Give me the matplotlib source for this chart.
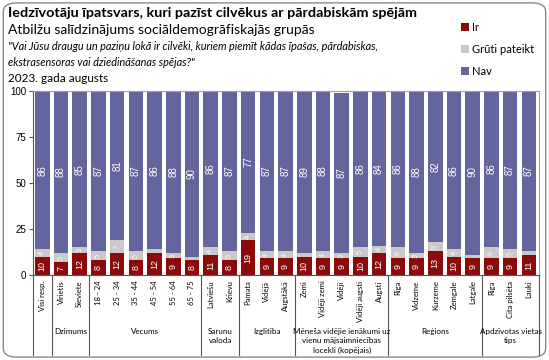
import numpy as np
import matplotlib.pyplot as plt
from matplotlib.patches import FancyBboxPatch
from matplotlib.lines import Line2D

kategorijas = ['Visi resp.', 'Vīrietis', 'Sieviete', '18 - 24', '25 - 34', '35 - 44', '45 - 54',
               '55 - 64', '65 - 75', 'Latviešu', 'Krievu', 'Pamata', 'Vidējā', 'Augstākā',
               'Zemi', 'Vidēji zemi', 'Vidēji', 'Vidēji augsti', 'Augsti', 'Rīga', 'Vidzeme',
               'Kurzeme', 'Zemgale', 'Latgale', 'Rīga', 'Cita pilsēta', 'Lauki']
ir = [10, 7, 12, 8, 12, 8, 12, 9, 8, 11, 8, 19, 9, 9, 10, 9, 9, 10, 12, 9, 9, 13, 10, 9, 9, 9, 11]
gruti = [4, 5, 3, 5, 7, 5, 2, 3, 2, 4, 5, 4, 4, 4, 2, 4, 3, 5, 4, 6, 3, 5, 4, 2, 6, 5, 2]
nav = [86, 88, 85, 87, 81, 87, 86, 88, 90, 86, 87, 77, 87, 87, 89, 88, 87, 86, 84, 86, 88, 82,
       86, 90, 86, 87, 87]
grupas = ['', 'Dzimums', 'Vecums', 'Sarunu\nvaloda', 'Izglītība',
          'Mēneša vidējie ienākumi uz\nvienu mājsaimniecības\nlocekli (kopējais)',
          'Reģions', 'Apdzīvotas vietas\ntips']
grupu_izmers = [1, 2, 6, 2, 3, 5, 5, 3]

c_ir = '#8B0A0A'
c_gr = '#C9C9C9'
c_nav = '#64659C'

fig = plt.figure(figsize=(5.49, 3.6), dpi=100)
fig.patches.append(FancyBboxPatch((0.006, 0.008), 0.988, 0.984, boxstyle='round,pad=0,rounding_size=0.025',
                                  transform=fig.transFigure, fc='white', ec='#8a8a8a', lw=1.0, zorder=-5))
ax = fig.add_axes([0.060, 0.236, 0.922, 0.511])

x = np.arange(len(kategorijas))
ir_a = np.array(ir)
gr_a = np.array(gruti)
nav_a = np.array(nav)
w = 0.78
ax.bar(x, ir_a, w, color=c_ir, label='Ir')
ax.bar(x, gr_a, w, bottom=ir_a, color=c_gr, label='Grūti pateikt')
ax.bar(x, nav_a, w, bottom=ir_a + gr_a, color=c_nav, label='Nav')

for i in range(len(x)):
    ax.text(x[i], ir_a[i] / 2, str(ir[i]), rotation=90, ha='center', va='center',
            color='white', fontsize=6.5, family='Liberation Sans')
    if gruti[i] >= 3:
        ax.text(x[i], ir_a[i] + gr_a[i] / 2, str(gruti[i]), rotation=90, ha='center', va='center',
                color='white', fontsize=5.5, family='Liberation Sans')
    ax.text(x[i], ir_a[i] + gr_a[i] + nav_a[i] / 2, str(nav[i]), rotation=90, ha='center',
            va='center', color='white', fontsize=7, family='Liberation Sans')

ax.set_xlim(-0.5, len(x) - 0.45)
ax.set_ylim(0, 100)
ax.set_yticks([0, 25, 50, 75, 100])
ax.tick_params(axis='y', labelsize=7, length=3, color='#555555', pad=2)
for t in ax.get_yticklabels():
    t.set_family('Liberation Sans')
ax.set_xticks(x)
ax.set_xticklabels(kategorijas, rotation=90, fontsize=5.5, family='Lato', va='top')
ax.tick_params(axis='x', length=0, pad=4)
for s in ['top', 'right']:
    ax.spines[s].set_color('#a0a0a0')
    ax.spines[s].set_linewidth(0.8)
ax.spines['left'].set_color('#555555')
ax.spines['bottom'].set_color('#555555')

# grupu atdalītāji un nosaukumi
robezas = np.concatenate([[0], np.cumsum(grupu_izmers)]) - 0.5
robezas[-1] = len(x) - 0.45
for b in robezas:
    ax.add_line(Line2D([b, b], [0, -0.435], transform=ax.get_xaxis_transform(),
                       color='#555555', lw=0.8, clip_on=False))
for j, g in enumerate(grupas):
    c = (robezas[j] + robezas[j + 1]) / 2
    ax.text(c, -0.29, g, transform=ax.get_xaxis_transform(), ha='center', va='top',
            fontsize=5.8, family='Lato', linespacing=1.35)

fig.text(0.015, 0.963, 'Iedzīvotāju īpatsvars, kuri pazīst cilvēkus ar pārdabiskām spējām',
         fontsize=10.4, fontweight='bold', family='Lato', va='center')
fig.text(0.015, 0.918, 'Atbilžu salīdzinājums sociāldemogrāfiskajās grupās', fontsize=10,
         family='Lato', va='center')
fig.text(0.015, 0.872, '"Vai Jūsu draugu un paziņu lokā ir cilvēki, kuriem piemīt kādas īpašas, pārdabiskas,',
         fontsize=7.8, style='italic', family='Lato', va='center')
fig.text(0.015, 0.827, 'ekstrasensoras vai dziedināšanas spējas?"', fontsize=7.8, style='italic',
         family='Lato', va='center')
fig.text(0.015, 0.782, '2023. gada augusts', fontsize=8.5, family='Lato', va='center')

fig.legend(loc='upper left', bbox_to_anchor=(0.822, 0.967), frameon=False,
           handlelength=0.7, handleheight=0.7, handletextpad=0.3, labelspacing=1.0,
           prop={'family': 'Lato', 'size': 8})

fig.savefig('out.png', dpi=100)
